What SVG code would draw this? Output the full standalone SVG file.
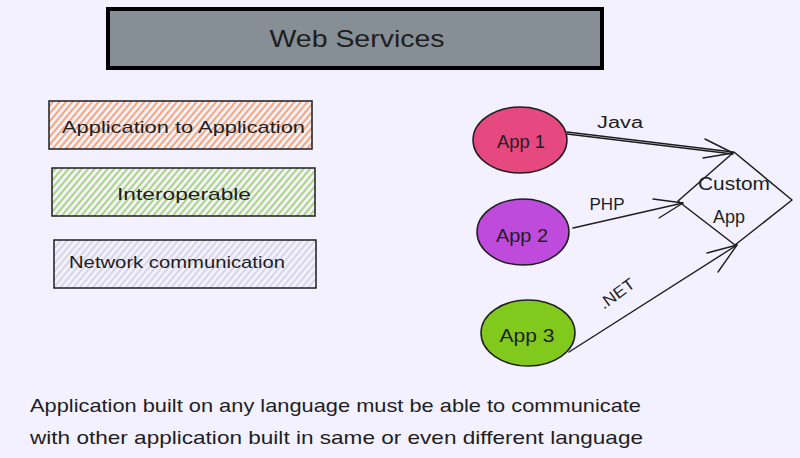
<svg xmlns="http://www.w3.org/2000/svg" width="800" height="458" viewBox="0 0 800 458">
<style>
.t{font-family:"Liberation Sans",Arial,sans-serif;fill:#1e1e1e;}
.box{stroke:#1e1e1e;stroke-width:1.5;}
.ln{stroke:#1e1e1e;stroke-width:1.4;fill:none;stroke-linecap:round;stroke-linejoin:round;}
</style>
<defs>
<pattern id="hOrange" width="5" height="5" patternUnits="userSpaceOnUse" patternTransform="rotate(40)">
<line x1="1" y1="0" x2="1" y2="5" stroke="#f9a36e" stroke-width="1.9"/>
</pattern>
<pattern id="hGreen" width="5" height="5" patternUnits="userSpaceOnUse" patternTransform="rotate(40)">
<line x1="1" y1="0" x2="1" y2="5" stroke="#a5d574" stroke-width="1.9"/>
</pattern>
<pattern id="hGray" width="5" height="5" patternUnits="userSpaceOnUse" patternTransform="rotate(40)">
<line x1="1" y1="0" x2="1" y2="5" stroke="#d6d5e4" stroke-width="1.9"/>
</pattern>
</defs>
<rect x="0" y="0" width="800" height="458" fill="#f3f0ff"/>

<g id="title">
<rect x="108" y="9" width="494" height="59" fill="#868e96" stroke="#000" stroke-width="4"/>
<text class="t" x="357" y="47" font-size="24" text-anchor="middle" textLength="175" lengthAdjust="spacingAndGlyphs">Web Services</text>
</g>

<g id="box-app2app">
<rect x="49" y="101" width="263" height="48" fill="url(#hOrange)" class="box"/>
<text class="t" x="62" y="133" font-size="17" textLength="243" lengthAdjust="spacingAndGlyphs">Application to Application</text>
</g>

<g id="box-interop">
<rect x="52" y="168" width="263" height="48" fill="url(#hGreen)" class="box"/>
<text class="t" x="117" y="200" font-size="17" textLength="134" lengthAdjust="spacingAndGlyphs">Interoperable</text>
</g>

<g id="box-network">
<rect x="54" y="240" width="262" height="48" fill="url(#hGray)" class="box"/>
<text class="t" x="69" y="268" font-size="17" textLength="216" lengthAdjust="spacingAndGlyphs">Network communication</text>
</g>

<g id="app1">
<ellipse cx="520" cy="140" rx="47" ry="33" fill="#e64980" stroke="#1e1e1e" stroke-width="1.5"/>
<text class="t" x="521" y="148" font-size="18" text-anchor="middle" textLength="48" lengthAdjust="spacingAndGlyphs">App 1</text>
</g>

<g id="app2">
<ellipse cx="523" cy="232" rx="46" ry="33" fill="#be4bdb" stroke="#1e1e1e" stroke-width="1.5"/>
<text class="t" x="522" y="242" font-size="18" text-anchor="middle" textLength="52" lengthAdjust="spacingAndGlyphs">App 2</text>
</g>

<g id="app3">
<ellipse cx="528" cy="333" rx="47" ry="33" fill="#82c91e" stroke="#1e1e1e" stroke-width="1.5"/>
<text class="t" x="527" y="342" font-size="18" text-anchor="middle" textLength="55" lengthAdjust="spacingAndGlyphs">App 3</text>
</g>

<g id="custom-app">
<polygon points="734,152 792,200 735,245 678,201" fill="none" stroke="#1e1e1e" stroke-width="1.5" stroke-linejoin="round"/>
<text class="t" x="734" y="190" font-size="18" text-anchor="middle" textLength="72" lengthAdjust="spacingAndGlyphs">Custom</text>
<text class="t" x="729" y="223" font-size="18" text-anchor="middle" textLength="32" lengthAdjust="spacingAndGlyphs">App</text>
</g>

<g id="connectors">
<path class="ln" d="M567,132 L733,152 M567,134 L733,154"/>
<path class="ln" d="M705,139 L733,153 L703,158"/>
<text class="t" x="620" y="128" font-size="16" text-anchor="middle" textLength="46" lengthAdjust="spacingAndGlyphs">Java</text>

<path class="ln" d="M573,228 L683,203"/>
<path class="ln" d="M653,199 L683,203 L659,218"/>
<text class="t" x="607" y="210" font-size="16" text-anchor="middle" textLength="35" lengthAdjust="spacingAndGlyphs">PHP</text>

<path class="ln" d="M569,352 L737,245"/>
<path class="ln" d="M707,253 L737,245 L718,272"/>
<text class="t" x="0" y="0" font-size="16" text-anchor="middle" textLength="40" lengthAdjust="spacingAndGlyphs" transform="translate(620,298) rotate(-36)">.NET</text>
</g>

<g id="caption">
<text class="t" x="30" y="412" font-size="19" textLength="611" lengthAdjust="spacingAndGlyphs">Application built on any language must be able to communicate</text>
<text class="t" x="30" y="444" font-size="19" textLength="613" lengthAdjust="spacingAndGlyphs">with other application built in same or even different language</text>
</g>
</svg>
